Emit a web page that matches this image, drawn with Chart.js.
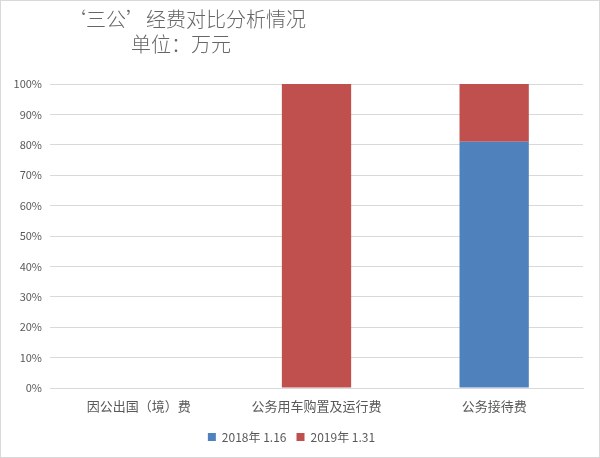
<!DOCTYPE html>
<html>
<head>
<meta charset="utf-8">
<script src="https://cdn.jsdelivr.net/npm/chart.js@4/dist/chart.umd.min.js"></script>
<style>
  body { margin: 0; background: #fff; }
  #wrap { position: absolute; left: 0; top: 0; width: 600px; height: 458px; }
</style>
</head>
<body>
<div id="wrap"><canvas id="chart" width="600" height="458"></canvas></div>
<script>
var categories = ["因公出国（境）费", "公务用车购置及运行费", "公务接待费"];
var seriesNames = ["2018年 1.16", "2019年 1.31"];
var share2018 = [0, 0, 81];
var share2019 = [0, 100, 19];
var titleLines = ["‘三公’经费对比分析情况", "单位：万元"];

var font = "'Noto Sans CJK SC', 'Noto Sans', sans-serif";
var grey = "#595959";

// title text and the outer frame
var decor = {
  id: "decor",
  afterDraw: function(chart) {
    var ctx = chart.ctx;
    ctx.save();
    ctx.strokeStyle = "#d9d9d9";
    ctx.lineWidth = 1;
    ctx.strokeRect(0.5, 0.5, 599, 457);
    ctx.fillStyle = "#666666";
    ctx.font = "300 20px " + font;
    ctx.textAlign = "center";
    ctx.textBaseline = "middle";
    ctx.fillText(titleLines[0], 186, 19);
    ctx.fillText(titleLines[1], 181, 44);
    ctx.restore();
  }
};

var mychart = document.getElementById("chart").getContext("2d");
var chart = new Chart(mychart, {
  type: "bar",
  data: {
    labels: categories,
    datasets: [
      { label: seriesNames[0], data: share2018, backgroundColor: "#4F81BD" },
      { label: seriesNames[1], data: share2019, backgroundColor: "#C0504D" }
    ]
  },
  options: {
    responsive: false,
    animation: false,
    barPercentage: 0.39,
    categoryPercentage: 1,
    layout: { padding: { top: 84, right: 17, left: 0, bottom: 5 } },
    scales: {
      x: {
        stacked: true,
        grid: { display: false, drawTicks: false },
        border: { color: "#d9d9d9" },
        ticks: { color: grey, font: { size: 13, family: font }, padding: 10 },
        afterFit: function(s) { s.height = 33; }
      },
      y: {
        stacked: true,
        min: 0, max: 100,
        grid: { color: "#d9d9d9", drawTicks: false },
        border: { display: false },
        ticks: {
          stepSize: 10, color: grey, padding: 8,
          font: { size: 11, family: font },
          callback: function(v) { return v + "%"; }
        },
        afterFit: function(s) { s.width = 50; }
      }
    },
    plugins: {
      title: { display: false },
      tooltip: { enabled: false },
      legend: {
        position: "bottom",
        labels: {
          boxWidth: 8, boxHeight: 8, padding: 10,
          color: grey, font: { size: 12, family: font }
        }
      }
    }
  },
  plugins: [decor]
});
</script>
</body>
</html>
